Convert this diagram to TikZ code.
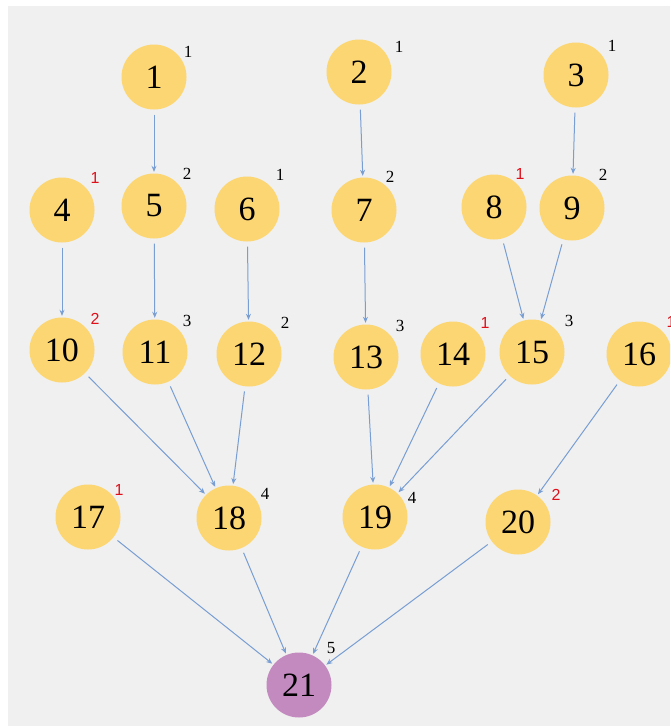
\documentclass[tikz,border=0pt]{standalone}
\usepackage{fontspec}
\setmainfont{Liberation Serif}
\newfontfamily\labelsans{Liberation Sans}
\usetikzlibrary{arrows.meta}

\definecolor{bggray}{HTML}{F0F0F0}
\definecolor{nodeyellow}{HTML}{FCD672}
\definecolor{nodepurple}{HTML}{C38ABF}
\definecolor{edgeblue}{HTML}{789ED4}
\definecolor{degred}{HTML}{E0101A}

\tikzset{
  vert/.style={circle, fill=nodeyellow, minimum size=65pt, inner sep=0pt,
    font=\fontsize{34}{34}\selectfont},
  root/.style={vert, fill=nodepurple},
  deg/.style={inner sep=0pt, font=\fontsize{17}{17}\selectfont},
  degr/.style={inner sep=0pt, text=degred, font=\labelsans\fontsize{16}{16}\selectfont},
  edge/.style={draw=edgeblue, line width=1pt, shorten <=5pt, shorten >=1.5pt,
    -{Stealth[length=6pt,width=5pt]}}
}

\begin{document}
\begin{tikzpicture}[x=1pt,y=-1pt]

% Frame and grey background
\useasboundingbox (0,0) rectangle (670,726);
\clip (0,0) rectangle (670,726);
\fill[bggray] (8,6) rectangle (670,726);

% Row 1
\node[vert] (n1) at (154,77) {1};
\node[vert] (n2) at (359,72) {2};
\node[vert] (n3) at (576,75) {3};

% Row 2
\node[vert] (n4) at (62,210) {4};
\node[vert] (n5) at (154,206) {5};
\node[vert] (n6) at (247,209) {6};
\node[vert] (n7) at (364,210) {7};
\node[vert] (n8) at (494,207) {8};
\node[vert] (n9) at (572,208) {9};

% Row 3
\node[vert] (n10) at (62,350) {10};
\node[vert] (n11) at (155,352) {11};
\node[vert] (n12) at (249,354) {12};
\node[vert] (n13) at (366,357) {13};
\node[vert] (n14) at (453,354) {14};
\node[vert] (n15) at (532,352) {15};
\node[vert] (n16) at (639,354) {16};

% Row 4
\node[vert] (n17) at (88,517) {17};
\node[vert] (n18) at (229,518) {18};
\node[vert] (n19) at (375,517) {19};
\node[vert] (n20) at (518,522) {20};

% Root
\node[root] (n21) at (299,685) {21};

% Degrees
\node[deg] (d1) at (188,52) {1};
\node[deg] (d2) at (399,47) {1};
\node[deg] (d3) at (612,46) {1};
\node[degr] (d4) at (95,178) {1};
\node[deg] (d5) at (187,174) {2};
\node[deg] (d6) at (280,175) {1};
\node[deg] (d7) at (390,177) {2};
\node[degr] (d8) at (520,174) {1};
\node[deg] (d9) at (603,175) {2};
\node[degr] (d10) at (95,319) {2};
\node[deg] (d11) at (187,321) {3};
\node[deg] (d12) at (285,323) {2};
\node[deg] (d13) at (400,326) {3};
\node[degr] (d14) at (485,323) {1};
\node[deg] (d15) at (569,321) {3};
\node[degr] (d16) at (671,322) {1};
\node[degr] (d17) at (119,490) {1};
\node[deg] (d18) at (265,494) {4};
\node[deg] (d19) at (412,498) {4};
\node[degr] (d20) at (556,495) {2};
\node[deg] (d21) at (331,648) {5};

% Edges
\draw[edge] (n1) -- (n5);
\draw[edge] (n2) -- (n7);
\draw[edge] (n3) -- (n9);
\draw[edge] (n4) -- (n10);
\draw[edge] (n5) -- (n11);
\draw[edge] (n6) -- (n12);
\draw[edge] (n7) -- (n13);
\draw[edge] (n8) -- (n15);
\draw[edge] (n9) -- (n15);
\draw[edge] (n10) -- (n18);
\draw[edge] (n11) -- (n18);
\draw[edge] (n12) -- (n18);
\draw[edge] (n13) -- (n19);
\draw[edge] (n14) -- (n19);
\draw[edge] (n15) -- (n19);
\draw[edge] (n16) -- (n20);
\draw[edge] (n17) -- (n21);
\draw[edge] (n18) -- (n21);
\draw[edge] (n19) -- (n21);
\draw[edge] (n20) -- (n21);

\end{tikzpicture}
\end{document}
